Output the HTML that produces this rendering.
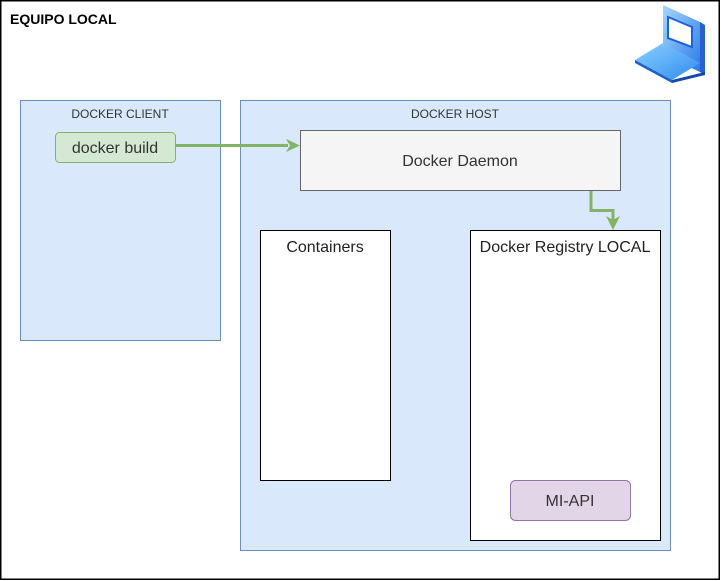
<!DOCTYPE html>
<html><head><meta charset="utf-8"><style>
html,body{margin:0;padding:0;background:#fff}
svg{display:block}
text{font-family:"Liberation Sans",Arial,sans-serif}
</style></head><body>
<svg width="721" height="581" viewBox="0 0 721 581" xmlns="http://www.w3.org/2000/svg">
<rect x="0.75" y="0.75" width="718.5" height="578.5" fill="#fff" stroke="#000" stroke-width="1.5"/>
<text x="10" y="24" font-size="14" font-weight="bold" fill="#000">EQUIPO LOCAL</text>
<!-- laptop icon -->
<defs>
<linearGradient id="g1" x1="0" y1="0" x2="1" y2="1"><stop offset="0" stop-color="#a8d8ff"/><stop offset="1" stop-color="#2a7ae8"/></linearGradient>
<linearGradient id="g2" x1="0" y1="0" x2="1" y2="1"><stop offset="0" stop-color="#8ccfff"/><stop offset="1" stop-color="#2f8cf0"/></linearGradient>
</defs>
<polygon points="663,5 700,22 700,72 663,55" fill="url(#g1)"/>
<polygon points="700,22 705,25 705,75 700,72" fill="#2a5fd0"/>
<polygon points="668,17 692,27 692,47 668,38" fill="#fff" stroke="#1e60e0" stroke-width="2"/>
<polygon points="663,43 700,63 672,80 635,60" fill="url(#g2)"/>
<polygon points="635,60 672,80 672,83 635,63" fill="#1e60c8"/>
<polygon points="672,80 705,72 705,75 672,83" fill="#1448b0"/>
<!-- docker client -->
<rect x="20.5" y="100.5" width="200" height="240" fill="#dae8fc" stroke="#6c8ebf"/>
<text x="120" y="118" font-size="12" fill="#333" text-anchor="middle">DOCKER CLIENT</text>
<rect x="55.5" y="132.5" width="120" height="30" rx="4" fill="#d5e8d4" stroke="#82b366"/>
<text x="115" y="153" font-size="16" fill="#333" text-anchor="middle">docker build</text>
<!-- docker host -->
<rect x="240.5" y="100.5" width="430" height="450" fill="#dae8fc" stroke="#6c8ebf"/>
<text x="455" y="118" font-size="12" fill="#333" text-anchor="middle">DOCKER HOST</text>
<rect x="300.5" y="130.5" width="320" height="60" fill="#f5f5f5" stroke="#666"/>
<text x="460" y="166" font-size="16" fill="#333" text-anchor="middle">Docker Daemon</text>
<rect x="260.5" y="230.5" width="130" height="250" fill="#fff" stroke="#000"/>
<text x="325" y="252" font-size="16" fill="#222" text-anchor="middle">Containers</text>
<rect x="470.5" y="230.5" width="190" height="310" fill="#fff" stroke="#000"/>
<text x="565" y="252" font-size="16" fill="#222" text-anchor="middle">Docker Registry LOCAL</text>
<rect x="510.5" y="480.5" width="120" height="40" rx="5" fill="#e1d5e7" stroke="#9673a6"/>
<text x="570" y="506" font-size="16" fill="#333" text-anchor="middle">MI-API</text>
<!-- arrows -->
<line x1="176" y1="145.5" x2="288" y2="145.5" stroke="#82b366" stroke-width="3"/>
<polygon points="300,145.5 286,139 290,145.5 286,152" fill="#82b366"/>
<polyline points="591,191 591,210.5 613,210.5 613,220" fill="none" stroke="#82b366" stroke-width="3"/>
<polygon points="613,230 606,216 613,220 620,216" fill="#82b366"/>
</svg>
</body></html>
